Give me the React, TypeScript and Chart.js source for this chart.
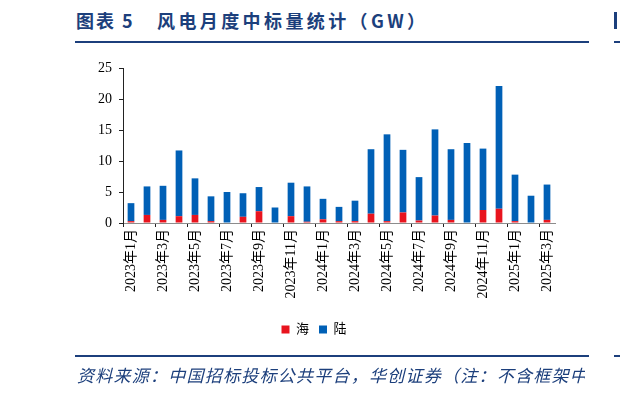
import React, { useEffect, useRef } from "react";
import { Chart, registerables } from "chart.js";

Chart.register(...registerables);

const categories = [
  "2023年1月", "2023年2月", "2023年3月", "2023年4月", "2023年5月", "2023年6月",
  "2023年7月", "2023年8月", "2023年9月", "2023年10月", "2023年11月", "2023年12月",
  "2024年1月", "2024年2月", "2024年3月", "2024年4月", "2024年5月", "2024年6月",
  "2024年7月", "2024年8月", "2024年9月", "2024年10月", "2024年11月", "2024年12月",
  "2025年1月", "2025年2月", "2025年3月",
];

// offshore (海)
const seaValues = [
  0.3, 1.3, 0.5, 1.1, 1.3, 0.3, 0, 1.0, 1.9, 0, 1.1, 0.2,
  0.6, 0.3, 0.3, 1.5, 0.3, 1.7, 0.4, 1.2, 0.5, 0, 2.1, 2.3,
  0.3, 0, 0.5,
];

// onshore (陆)
const landValues = [
  2.9, 4.6, 5.5, 10.6, 5.9, 4.0, 5.0, 3.8, 3.9, 2.5, 5.4, 5.7,
  3.3, 2.3, 3.3, 10.4, 14.0, 10.1, 7.0, 13.9, 11.4, 12.9, 9.9, 19.8,
  7.5, 4.4, 5.7,
];

const yTicks = [0, 5, 10, 15, 20, 25];

const seriesNames = ["海", "陆"];
const titleLead = "图表 5";
const titleText = "风电月度中标量统计（GW）";
const sourceText = "资料来源：中国招标投标公共平台，华创证券（注：不含框架中标）";

const NAVY = "#1c3f7c";

export default function App() {
  const ref = useRef<HTMLCanvasElement | null>(null);

  useEffect(() => {
    document.body.style.margin = "0";
    const canvas = ref.current;
    if (!canvas) return;
    const chart = new Chart(canvas, {
      type: "bar",
      data: {
        labels: categories,
        datasets: [
          {
            label: seriesNames[0],
            data: seaValues,
            backgroundColor: "#e8141e",
            categoryPercentage: 0.42,
            barPercentage: 1,
          },
          {
            label: seriesNames[1],
            data: landValues,
            backgroundColor: "#0060b6",
            categoryPercentage: 0.42,
            barPercentage: 1,
          },
        ],
      },
      options: {
        animation: false,
        responsive: false,
        maintainAspectRatio: false,
        layout: { padding: { left: 73, right: 65, top: 68, bottom: 47 } },
        plugins: {
          tooltip: { enabled: false },
          legend: {
            position: "bottom",
            labels: {
              boxWidth: 8,
              boxHeight: 8,
              padding: 10,
              color: "#000",
              font: { family: "'Liberation Serif', 'Noto Sans CJK SC'", size: 13 },
            },
          },
        },
        scales: {
          x: {
            stacked: true,
            afterFit: (s: any) => {
              s.height = 90;
            },
            grid: {
              offset: true,
              drawOnChartArea: false,
              drawTicks: true,
              tickLength: 4,
              tickColor: (ctx: any) => (ctx.index % 2 === 0 ? "#222" : "rgba(0,0,0,0)"),
            },
            border: { display: true, color: "#8c8c8c", width: 1 },
            ticks: {
              autoSkip: false,
              minRotation: 90,
              maxRotation: 90,
              padding: 2,
              color: "#000",
              font: { family: "'Liberation Serif', 'Noto Sans CJK SC'", size: 14 },
              callback: (_v: any, i: number) => (i % 2 === 0 ? categories[i] : ""),
            },
          },
          y: {
            stacked: true,
            min: 0,
            max: 25,
            afterFit: (s: any) => {
              s.width = 50;
            },
            afterBuildTicks: (s: any) => {
              s.ticks = yTicks.map((v) => ({ value: v }));
            },
            grid: {
              drawOnChartArea: false,
              drawTicks: true,
              tickLength: 4,
              tickColor: "#222",
            },
            border: { display: true, color: "#222", width: 1 },
            ticks: {
              padding: 7,
              color: "#000",
              font: { family: "'Liberation Serif'", size: 14 },
            },
          },
        },
      },
    });
    return () => chart.destroy();
  }, []);

  const titleStyle: React.CSSProperties = {
    position: "absolute",
    top: 8,
    fontFamily: "'Noto Sans CJK SC'",
    fontWeight: 700,
    fontSize: 18,
    lineHeight: "24px",
    color: NAVY,
    whiteSpace: "nowrap",
    letterSpacing: 2,
  };

  return (
    <div style={{ position: "absolute", left: 0, top: 0, width: 620, height: 393, overflow: "hidden", background: "#fff" }}>
      <div style={{ ...titleStyle, left: 76 }}>{titleLead}</div>
      <div style={{ ...titleStyle, left: 157, letterSpacing: 3.4 }}>{titleText}</div>
      <div style={{ position: "absolute", left: 75, top: 41, width: 514, height: 2, background: NAVY }} />
      <div style={{ position: "absolute", left: 614, top: 12, width: 3, height: 17, background: NAVY }} />
      <div style={{ position: "absolute", left: 614, top: 41, width: 6, height: 2, background: NAVY }} />
      <canvas ref={ref} width={620} height={393} style={{ position: "absolute", left: 0, top: 0, width: 620, height: 393 }} />
      <div style={{ position: "absolute", left: 75, top: 355, width: 514, height: 2, background: NAVY }} />
      <div style={{ position: "absolute", left: 614, top: 355, width: 6, height: 2, background: NAVY }} />
      <div
        style={{
          position: "absolute",
          left: 77,
          top: 363,
          width: 508,
          overflow: "hidden",
          fontFamily: "'Noto Sans CJK SC'",
          fontStyle: "italic",
          fontSize: 17,
          lineHeight: "24px",
          color: NAVY,
          whiteSpace: "nowrap",
          letterSpacing: 1.25,
        }}
      >
        {sourceText}
      </div>
    </div>
  );
}
